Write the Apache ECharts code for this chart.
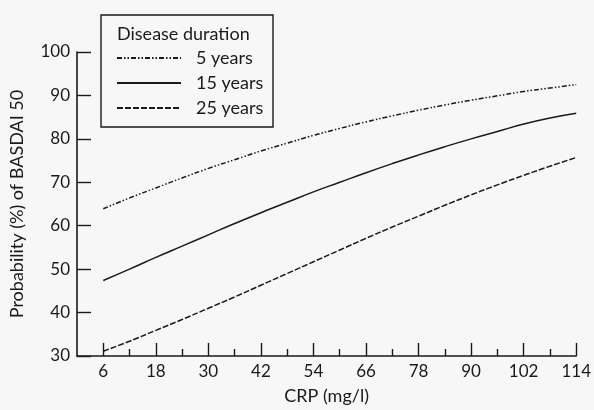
<!DOCTYPE html>
<html>
<head>
<meta charset="utf-8">
<script src="https://cdn.jsdelivr.net/npm/echarts@6/dist/echarts.min.js"></script>
<style>
  html, body { margin: 0; padding: 0; background: #f7f7f7; }
  #chart { width: 594px; height: 410px; }
</style>
</head>
<body>
<div id="chart"></div>
<script>
// CRP values (mg/l) at which the predicted probabilities are given
const crp = [6, 12, 18, 24, 30, 36, 42, 48, 54, 60, 66, 72, 78, 84, 90, 96, 102, 108, 114];

// Probability (%) of BASDAI 50 by disease duration
const years5  = [63.9, 66.4, 68.7, 71.0, 73.2, 75.2, 77.2, 79.0, 80.8, 82.4, 83.9, 85.3, 86.6, 87.8, 88.9, 89.9, 90.9, 91.7, 92.5];
const years15 = [47.4, 50.0, 52.7, 55.3, 57.9, 60.5, 63.0, 65.4, 67.8, 70.0, 72.2, 74.3, 76.3, 78.2, 80.0, 81.7, 83.4, 84.8, 85.9];
const years25 = [31.1, 33.4, 35.9, 38.4, 41.0, 43.6, 46.3, 49.0, 51.7, 54.4, 57.1, 59.7, 62.2, 64.7, 67.1, 69.4, 71.6, 73.7, 75.7];

const seriesNames = ['5 years', '15 years', '25 years'];

// Tick positions on the CRP axis
const majorTicks = [6, 18, 30, 42, 54, 66, 78, 90, 102, 114];
const minorTicks = [12, 24, 36, 48, 60, 72, 84, 96, 108];

const FONT = 'Lato';
const INK = '#1a1a1a';

const pairs = arr => crp.map((x, i) => [x, arr[i]]);

const chart = echarts.init(document.getElementById('chart'), null, { renderer: 'canvas' });

chart.setOption({
  backgroundColor: '#f7f7f7',
  animation: false,
  textStyle: { fontFamily: FONT, color: INK },
  title: {
    text: 'Disease duration',
    left: 112, top: 20,
    textStyle: { fontFamily: FONT, fontSize: 18, fontWeight: 'normal', color: INK }
  },
  legend: {
    data: seriesNames,
    orient: 'vertical',
    left: 111, top: 44,
    itemWidth: 64, itemHeight: 14, itemGap: 7,
    itemStyle: { color: 'transparent', borderWidth: 0, opacity: 0 },
    textStyle: { fontFamily: FONT, fontSize: 18, color: INK, padding: [0, 0, 0, 10] }
  },
  graphic: [{
    type: 'rect',
    shape: { x: 101, y: 15, width: 172, height: 112 },
    style: { fill: 'none', stroke: INK, lineWidth: 1.4 }
  }],
  grid: { left: 74, right: 16, top: 52, bottom: 50 },
  xAxis: [{
    type: 'value',
    min: 0, max: 114,
    name: 'CRP (mg/l)',
    nameLocation: 'middle',
    nameGap: 31,
    nameTextStyle: { fontFamily: FONT, fontSize: 18, color: INK },
    axisLine: { show: true, onZero: false, lineStyle: { color: INK, width: 1.6 } },
    axisTick: { show: true, inside: true, length: 13, customValues: majorTicks, lineStyle: { color: INK, width: 1.4 } },
    axisLabel: { customValues: majorTicks, fontFamily: FONT, fontSize: 17, color: INK, margin: 7 },
    splitLine: { show: false }
  }, {
    type: 'value',
    min: 0, max: 114,
    position: 'bottom',
    axisLine: { show: false },
    axisTick: { show: true, inside: true, length: 7, customValues: minorTicks, lineStyle: { color: INK, width: 1.4 } },
    axisLabel: { show: false },
    splitLine: { show: false }
  }],
  yAxis: {
    type: 'value',
    min: 30, max: 100, interval: 10,
    name: 'Probability (%) of BASDAI 50',
    nameLocation: 'middle',
    nameGap: 51,
    nameTextStyle: { fontFamily: FONT, fontSize: 18, color: INK },
    axisLine: { show: true, lineStyle: { color: INK, width: 1.6 } },
    axisTick: { show: true, inside: true, length: 14, lineStyle: { color: INK, width: 1.4 } },
    axisLabel: { fontFamily: FONT, fontSize: 17, color: INK, margin: 7 },
    splitLine: { show: false }
  },
  series: [{
    name: seriesNames[0],
    type: 'line',
    data: pairs(years5),
    symbol: 'none',
    smooth: true,
    lineStyle: { color: INK, width: 1.5, type: [5, 2, 1.5, 2, 1.5, 2] },
    itemStyle: { color: INK }
  }, {
    name: seriesNames[1],
    type: 'line',
    data: pairs(years15),
    symbol: 'none',
    smooth: true,
    lineStyle: { color: INK, width: 1.5, type: 'solid' },
    itemStyle: { color: INK }
  }, {
    name: seriesNames[2],
    type: 'line',
    data: pairs(years25),
    symbol: 'none',
    smooth: true,
    lineStyle: { color: INK, width: 1.5, type: [6, 2] },
    itemStyle: { color: INK }
  }]
});
</script>
</body>
</html>
